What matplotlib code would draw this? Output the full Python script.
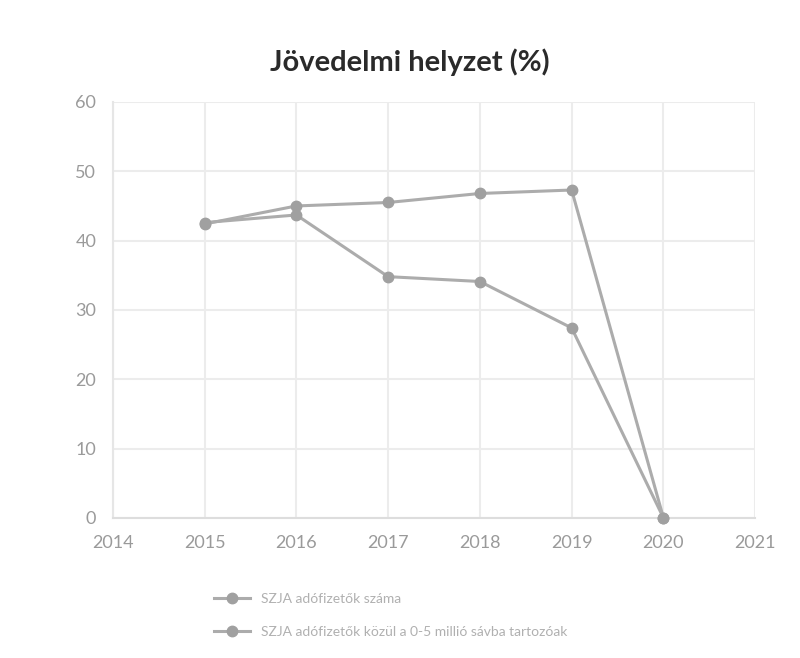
import matplotlib
matplotlib.use('Agg')
from matplotlib import pyplot as plt

years = [2015, 2016, 2017, 2018, 2019, 2020]
szja_szama = [42.4, 45.0, 45.5, 46.8, 47.3, 0]
szja_0_5 = [42.6, 43.7, 34.8, 34.1, 27.4, 0]
labels = ['SZJA adófizetők száma',
          'SZJA adófizetők közül a 0-5 millió sávba tartozóak']

plt.rcParams['font.family'] = ['Lato', 'DejaVu Sans']

fig = plt.figure(figsize=(8, 6.58), dpi=100)
ax = fig.add_axes([0.141, 0.213, 0.803, 0.632])

line_c = '#acacac'
mark_c = '#a0a0a0'
ax.plot(years, szja_szama, color=line_c, lw=2.2, marker='o', ms=7.5,
        mfc=mark_c, mec=mark_c, label=labels[0], zorder=3, clip_on=False)
ax.plot(years, szja_0_5, color=line_c, lw=2.2, marker='o', ms=7.5,
        mfc=mark_c, mec=mark_c, label=labels[1], zorder=3, clip_on=False)

ax.set_xlim(2014, 2021)
ax.set_ylim(0, 60)
ax.set_xticks(range(2014, 2022))
ax.set_yticks(range(0, 61, 10))
ax.grid(True, color='#ececec', lw=1.5)
ax.set_axisbelow(True)
for s in ['top', 'right']:
    ax.spines[s].set_visible(False)
ax.spines['left'].set_color('#e6e6e6')
ax.spines['bottom'].set_color('#dddddd')
ax.spines['left'].set_linewidth(1.5)
ax.spines['bottom'].set_linewidth(1.5)
ax.tick_params(length=0, colors='#9a9a9a', labelsize=13, pad=12)

fig.text(0.512, 0.905, 'Jövedelmi helyzet (%)', ha='center', va='center',
         fontsize=21, fontweight='bold', color='#2a2a2a')

fig.legend(loc='upper left', bbox_to_anchor=(0.252, 0.118), frameon=False,
           fontsize=10, labelcolor='#b0b0b0', handlelength=2.6,
           handletextpad=0.8, labelspacing=1.5)

fig.savefig('out.png', dpi=100)
